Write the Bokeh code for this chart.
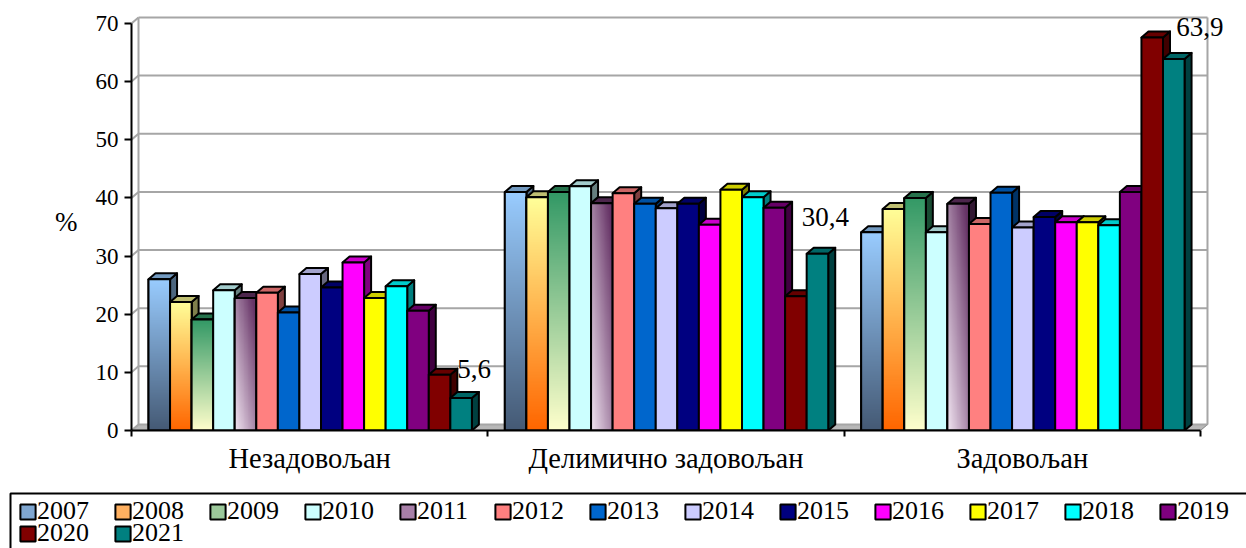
import numpy as np
from bokeh.plotting import figure
from bokeh.layouts import column
from bokeh.models import Range1d, FixedTicker, Legend, LegendItem
from bokeh.core.properties import value
from bokeh.embed import file_html
from bokeh.resources import INLINE

# ---------------- data ----------------
categories = ["Незадовољан", "Делимично задовољан", "Задовољан"]
years = ["2007", "2008", "2009", "2010", "2011", "2012", "2013", "2014",
         "2015", "2016", "2017", "2018", "2019", "2020", "2021"]
v2007 = [26.0, 41.0, 34.1]
v2008 = [22.1, 40.1, 38.1]
v2009 = [19.1, 41.0, 40.0]
v2010 = [24.1, 42.0, 34.1]
v2011 = [22.8, 39.1, 39.0]
v2012 = [23.7, 40.8, 35.5]
v2013 = [20.3, 39.0, 40.9]
v2014 = [26.9, 38.2, 34.9]
v2015 = [24.6, 39.0, 36.7]
v2016 = [28.9, 35.4, 35.8]
v2017 = [22.8, 41.4, 35.8]
v2018 = [24.8, 40.1, 35.3]
v2019 = [20.6, 38.3, 41.0]
v2020 = [9.6, 23.1, 67.6]
v2021 = [5.6, 30.4, 63.9]
series = [v2007, v2008, v2009, v2010, v2011, v2012, v2013, v2014,
          v2015, v2016, v2017, v2018, v2019, v2020, v2021]
labelled_series = "2021"
y_ticks = [0, 10, 20, 30, 40, 50, 60, 70]

# ---------------- styles ----------------
colors = ["#7FA6D0", "#FFB060", "#9CC89A", "#CCFFFF", "#A880A8", "#FF8080", "#0066CC",
          "#CCCCFF", "#000080", "#FF00FF", "#FFFF00", "#00FFFF", "#800080", "#800000",
          "#008080"]
gradients = {  # (kind, colour at t=0 (bottom/left), colour at t=1 (top/right))
    "2007": ("v", "#455A75", "#99CCFF"),
    "2008": ("v", "#FF6600", "#FFFF99"),
    "2009": ("v", "#FFFFCC", "#339966"),
    "2011": ("d", "#F2E6F2", "#663366"),
}
lbl_dx = [13, 8, 26]      # data-label offsets (px)
lbl_dy = [-29, -37, -32]
FONT = "Liberation Serif"
PX_X = 356.33   # px per category unit
PX_Y = 5.815    # px per percent
DX = 7 / PX_X   # 3-D depth
DY = 6 / PX_Y
GAP = 17 / PX_X
BW = 21.56 / PX_X

W, H = 1246, 488
ML, MR, MT, MB = 131, 16, 13, 58


def hex2rgb(h):
    return tuple(int(h[i:i + 2], 16) for i in (1, 3, 5))


def shade(h, f):
    r, g, b = hex2rgb(h)
    return "#%02x%02x%02x" % (int(r * f), int(g * f), int(b * f))


def grad_img(spec, nrow=240, ncol=48):
    kind, c0, c1 = spec
    a = np.array(hex2rgb(c0), float)
    b = np.array(hex2rgb(c1), float)
    vv = np.linspace(0, 1, nrow)[:, None]
    uu = np.linspace(0, 1, ncol)[None, :]
    if kind == "v":
        t = vv + 0 * uu
    else:
        t = np.clip(0.55 * uu + 0.55 * vv, 0, 1)
    rgb = a[None, None, :] * (1 - t[..., None]) + b[None, None, :] * t[..., None]
    img = np.empty((nrow, ncol), dtype=np.uint32)
    view = img.view(dtype=np.uint8).reshape((nrow, ncol, 4))
    view[..., :3] = rgb.astype(np.uint8)
    view[..., 3] = 255
    return img


x_end = (W - ML - MR) / PX_X
y_end = (H - MT - MB) / PX_Y

p = figure(width=W, height=H, output_backend="svg", toolbar_location=None,
           x_range=Range1d(0, x_end), y_range=Range1d(0, y_end),
           min_border_left=ML, min_border_right=MR, min_border_top=MT, min_border_bottom=MB)
p.outline_line_color = None
p.xgrid.visible = False
p.ygrid.visible = False
p.background_fill_color = "white"
p.border_fill_color = "white"

ncat = len(categories)
wall_col = "#A6A6A6"
# floor
p.patch([0, DX, ncat + DX, ncat], [0, DY, DY, 0], fill_color="#B8B8B8",
        line_color="#808080", line_width=1)
# back-wall gridlines and side-wall diagonals
p.segment(x0=[DX] * len(y_ticks), y0=[t + DY for t in y_ticks],
          x1=[ncat + DX] * len(y_ticks), y1=[t + DY for t in y_ticks],
          line_color=wall_col, line_width=2)
p.segment(x0=[0] * len(y_ticks), y0=y_ticks, x1=[DX] * len(y_ticks),
          y1=[t + DY for t in y_ticks], line_color=wall_col, line_width=2)
p.segment(x0=[DX, ncat + DX], y0=[DY, DY], x1=[DX, ncat + DX],
          y1=[y_ticks[-1] + DY] * 2, line_color=wall_col, line_width=2)

for j, (yr, vals) in enumerate(zip(years, series)):
    x0 = [g + GAP + j * BW for g in range(ncat)]
    x1 = [x + BW for x in x0]
    col = colors[j]
    if yr in gradients:
        topc = gradients[yr][2]
        top_col, side_col = shade(topc, 0.75), shade(topc, 0.5)
    else:
        top_col, side_col = shade(col, 0.8), shade(col, 0.5)
    p.patches(xs=[[a, a, a + DX, a + DX] for a in x1],
              ys=[[0, v, v + DY, DY] for v in vals],
              fill_color=side_col, line_color="black", line_width=2, line_join="round")
    p.patches(xs=[[a, a + DX, b + DX, b] for a, b in zip(x0, x1)],
              ys=[[v, v + DY, v + DY, v] for v in vals],
              fill_color=top_col, line_color="black", line_width=2, line_join="round")
    p.quad(left=x0, right=x1, bottom=[0] * ncat, top=vals,
           fill_color=col, line_color="black", line_width=2)
    if yr in gradients:
        imgs = [grad_img(gradients[yr]) for _ in vals]
        p.image_rgba(image=imgs, x=x0, y=[0] * ncat, dw=[BW] * ncat, dh=vals)
        p.quad(left=x0, right=x1, bottom=[0] * ncat, top=vals,
               fill_color=None, line_color="black", line_width=2)
    if yr == labelled_series:
        p.text(x=[(a + b) / 2 for a, b in zip(x0, x1)], y=vals,
               text=[("%.1f" % v).replace(".", ",") for v in vals],
               text_font=value(FONT), text_font_size="27px", text_color="black",
               text_align="center", text_baseline="alphabetic",
               x_offset=lbl_dx, y_offset=lbl_dy)

# axes
p.yaxis.ticker = FixedTicker(ticks=y_ticks)
p.yaxis.bounds = (y_ticks[0], y_ticks[-1])
p.yaxis.axis_line_width = 2
p.yaxis.major_tick_line_width = 2
p.yaxis.major_tick_out = 7
p.yaxis.major_tick_in = 0
p.yaxis.minor_tick_line_color = None
p.yaxis.major_label_text_font = FONT
p.yaxis.major_label_text_font_size = "23px"
p.yaxis.major_label_text_color = "black"
p.yaxis.major_label_standoff = 6
p.yaxis.axis_label = "%"
p.yaxis.axis_label_text_font = FONT
p.yaxis.axis_label_text_font_size = "27px"
p.yaxis.axis_label_text_font_style = "normal"
p.yaxis.axis_label_text_color = "black"
p.yaxis.axis_label_standoff = 15
if "axis_label_orientation" in p.yaxis[0].properties():
    p.yaxis.axis_label_orientation = "horizontal"

centers = [g + 0.5 for g in range(ncat)]
p.xaxis.ticker = FixedTicker(ticks=centers, minor_ticks=list(range(ncat + 1)))
p.xaxis.bounds = (0, ncat)
p.xaxis.major_label_overrides = {c: name for c, name in zip(centers, categories)}
p.xaxis.axis_line_width = 2
p.xaxis.major_tick_out = 0
p.xaxis.major_tick_in = 0
p.xaxis.minor_tick_out = 6
p.xaxis.minor_tick_in = 0
p.xaxis.minor_tick_line_color = "black"
p.xaxis.minor_tick_line_width = 2
p.xaxis.major_label_text_font = FONT
p.xaxis.major_label_text_font_size = "28.5px"
p.xaxis.major_label_text_color = "black"
p.xaxis.major_label_standoff = 6

# ---------------- legend panel ----------------
LH = 60
q = figure(width=W, height=LH, output_backend="svg", toolbar_location=None,
           x_range=Range1d(0, W), y_range=Range1d(0, LH),
           x_axis_location=None, y_axis_location=None,
           min_border_left=0, min_border_right=0, min_border_top=0, min_border_bottom=0)
q.outline_line_color = None
q.xgrid.visible = False
q.ygrid.visible = False
q.background_fill_color = "white"
q.border_fill_color = "white"
# legend frame (left and top edges visible, the rest runs off the page)
q.quad(left=[10], right=[W + 40], bottom=[-40], top=[LH - 5],
       fill_color=None, line_color="black", line_width=2)

leg_rs = []
for col in colors:
    leg_rs.append(q.quad(left=[-1000], right=[-999], bottom=[-1000], top=[-999],
                         fill_color=col, line_color="black", line_width=2))

leg_kw = dict(orientation="horizontal", padding=0, spacing=24, glyph_width=19,
              glyph_height=19, label_width=52, label_height=38, label_standoff=0,
              label_text_font=FONT, label_text_font_size="26px",
              label_text_color="black", label_text_baseline="alphabetic",
              border_line_color=None, background_fill_alpha=0, margin=0)
items1 = [LegendItem(label=y, renderers=[r]) for y, r in zip(years[:13], leg_rs[:13])]
items2 = [LegendItem(label=y, renderers=[r]) for y, r in zip(years[13:], leg_rs[13:])]
# location = bottom-left corner of each legend row, from the panel's bottom-left (px)
legA = Legend(items=items1, location=(18, 18), **leg_kw)
legB = Legend(items=items2, location=(18, -4), **leg_kw)
q.add_layout(legA)
q.add_layout(legB)

if "frame_align" in q.properties():
    q.frame_align = False
    p.frame_align = False
    out = column(p, q, spacing=0)
else:
    out = [p, q]

open("out.html", "w").write(file_html(out, INLINE))
